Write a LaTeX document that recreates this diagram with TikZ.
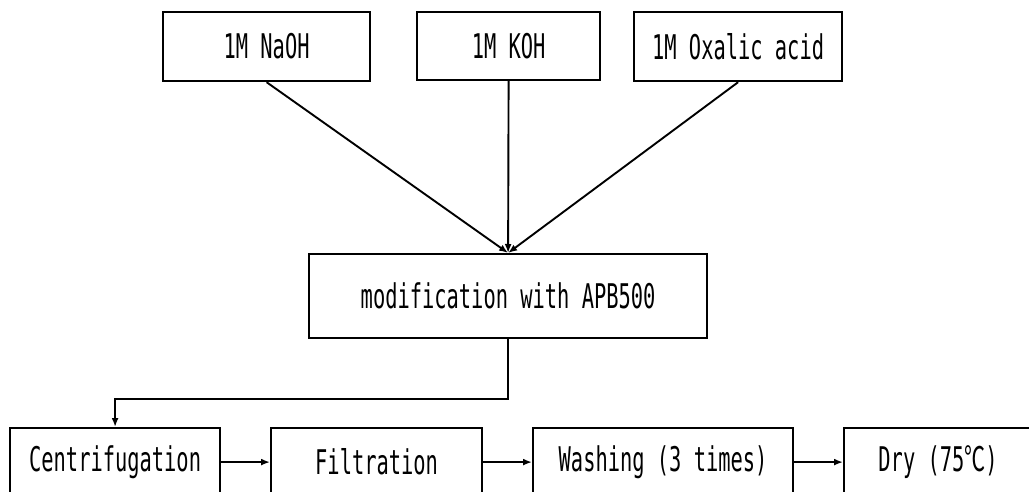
\documentclass[tikz,border=0pt]{standalone}
\usepackage{fontspec}
\newfontfamily\boxfont[FakeStretch=0.6]{DejaVu Sans Mono}
\newfontfamily\symfont[FakeStretch=0.62]{Noto Sans CJK KR}
\usetikzlibrary{arrows.meta}
\begin{document}
\begin{tikzpicture}[x=1pt,y=-1pt,
  stepbox/.style={draw=black,line width=2.2pt,fill=white,inner sep=0pt,
    anchor=north west,font=\boxfont\fontsize{34}{34}\selectfont},
  link/.style={draw=black,line width=1.9pt,-{Latex[length=9pt,width=7pt]}}]
\useasboundingbox (0,0) rectangle (1029,492);
\begin{scope}
\clip (0,0) rectangle (1029,492);
% reagents
\node[stepbox,minimum width=207pt,minimum height=69pt] (naoh) at (162,11) {1M NaOH};
\node[stepbox,minimum width=183pt,minimum height=68pt] (koh) at (416,11) {1M KOH};
\node[stepbox,minimum width=208pt,minimum height=69pt] (oxa) at (633,11) {1M Oxalic acid};
% modification step
\node[stepbox,minimum width=398pt,minimum height=84pt] (mod) at (308,253) {modification with APB500};
% processing sequence
\node[stepbox,minimum width=210pt,minimum height=68pt] (cen) at (9,427) {Centrifugation};
\node[stepbox,minimum width=211pt,minimum height=68pt] (fil) at (270,427) {Filtration};
\node[stepbox,minimum width=260pt,minimum height=68pt] (was) at (532,427) {Washing (3 times)};
\node[stepbox,minimum width=188pt,minimum height=68pt] (dry) at (843,427) {Dry (75{\symfont ℃})};
\coordinate (bend) at (507,399);
% connectors
\draw[link] (naoh.south) -- (mod.north);
\draw[link] (koh.south) -- (mod.north);
\draw[link] (oxa.south) -- (mod.north);
\draw[link] (mod.south) -- (mod.south |- bend) -| (cen.north);
\draw[link] (cen.east) -- (fil.west);
\draw[link] (fil.east) -- (was.west);
\draw[link] (was.east) -- (dry.west);
\end{scope}
\end{tikzpicture}
\end{document}
